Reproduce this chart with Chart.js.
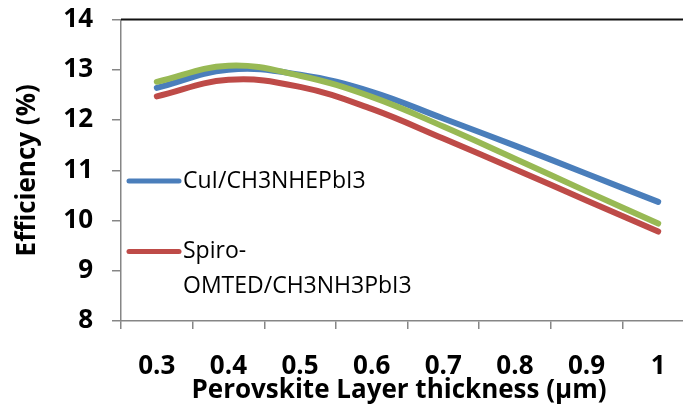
<!DOCTYPE html>
<html>
<head>
<meta charset="utf-8">
<script src="https://cdn.jsdelivr.net/npm/chart.js@4.4.1/dist/chart.umd.min.js"></script>
<style>
  html, body { margin: 0; padding: 0; background: #fff; overflow: hidden; }
  #wrap { width: 720px; height: 410px; }
</style>
</head>
<body>
<div id="wrap"><canvas id="canvas" width="720" height="410"></canvas></div>
<script>
// thickness in um and efficiency in %
const thickness = ['0.3', '0.4', '0.5', '0.6', '0.7', '0.8', '0.9', '1'];
const cuiEff = [12.64, 13.0, 12.9, 12.56, 12.03, 11.49, 10.93, 10.37];
const spiroEff = [12.47, 12.8, 12.66, 12.22, 11.63, 11.02, 10.4, 9.78];
const greenEff = [12.76, 13.08, 12.88, 12.46, 11.87, 11.23, 10.58, 9.94];
const yTicks = [8, 9, 10, 11, 12, 13, 14];

const BLUE = '#4a7ebb';
const RED = '#be4b48';
const GREEN = '#98b954';
const AXIS = '#868686';
const FONT = "'Open Sans'";

Chart.defaults.font.family = FONT;
Chart.defaults.color = '#000';

// legend sits inside the plot, on the left
const legendEntries = [
  { color: BLUE, lines: ['CuI/CH3NHEPbI3'], dy: 161.5 },
  { color: RED, lines: ['Spiro-', 'OMTED/CH3NH3PbI3'], dy: 232 },
];

const decorPlugin = {
  id: 'decor',
  beforeDatasetsDraw(chart) {
    const { ctx, chartArea } = chart;
    ctx.save();
    // dark frame line along the top
    ctx.strokeStyle = '#111';
    ctx.lineWidth = 2;
    ctx.beginPath();
    ctx.moveTo(chartArea.left, chartArea.top);
    ctx.lineTo(chart.width, chartArea.top);
    ctx.stroke();
    ctx.restore();
  },
  afterDraw(chart) {
    const { ctx, chartArea } = chart;
    ctx.save();
    legendEntries.forEach((e) => {
      const y = chartArea.top + e.dy;
      ctx.strokeStyle = e.color;
      ctx.lineWidth = 5;
      ctx.lineCap = 'round';
      ctx.beginPath();
      ctx.moveTo(chartArea.left + 8, y);
      ctx.lineTo(chartArea.left + 58, y);
      ctx.stroke();
      ctx.fillStyle = '#000';
      ctx.font = '23px ' + FONT;
      ctx.textBaseline = 'middle';
      ctx.textAlign = 'left';
      e.lines.forEach((t, i) => ctx.fillText(t, chartArea.left + 62, y + i * 34.5));
    });
    // x axis title
    ctx.font = 'bold 26px ' + FONT;
    ctx.textAlign = 'center';
    ctx.textBaseline = 'middle';
    ctx.fillText('Perovskite Layer thickness (\u00b5m)', 399, 391);
    ctx.restore();
  },
};

const config = {
  type: 'line',
  data: {
    labels: thickness,
    datasets: [
      { label: 'CuI/CH3NHEPbI3', data: cuiEff, borderColor: BLUE, order: 1 },
      { label: 'Spiro-OMTED/CH3NH3PbI3', data: spiroEff, borderColor: RED, order: 2 },
      { label: '', data: greenEff, borderColor: GREEN, order: 0 },
    ],
  },
  options: {
    responsive: false,
    animation: false,
    layout: { padding: { top: 19.5, right: 26, left: 0, bottom: 0 } },
    elements: {
      line: { borderWidth: 6, tension: 0.4, fill: false, borderCapStyle: 'round', borderJoinStyle: 'round' },
      point: { radius: 0 },
    },
    plugins: {
      legend: { display: false },
      tooltip: { enabled: false },
    },
    scales: {
      x: {
        type: 'category',
        offset: true,
        afterFit: (s) => { s.height = 89; },
        grid: { offset: true, drawOnChartArea: false, tickLength: 8, color: AXIS, lineWidth: 1.5 },
        border: { color: AXIS, width: 1.5 },
        ticks: { padding: 22, font: { size: 26, weight: 'bold' } },
      },
      y: {
        min: 8,
        max: 14,
        afterFit: (s) => { s.width = 121; s.paddingTop = 0; s.paddingBottom = 0; },
        afterBuildTicks: (s) => { s.ticks = yTicks.map((v) => ({ value: v })); },
        grid: { drawOnChartArea: false, tickLength: 9, color: AXIS, lineWidth: 1.5 },
        border: { color: AXIS, width: 1.5 },
        ticks: { padding: 19, font: { size: 26, weight: 'bold' } },
        title: {
          display: true,
          text: 'Efficiency (%)',
          font: { size: 26, weight: 'bold' },
          padding: { top: 12, bottom: 0 },
        },
      },
    },
  },
  plugins: [decorPlugin],
};

const ctx = document.getElementById('canvas').getContext('2d');
window.effChart = new Chart(ctx, config);
</script>
</body>
</html>
